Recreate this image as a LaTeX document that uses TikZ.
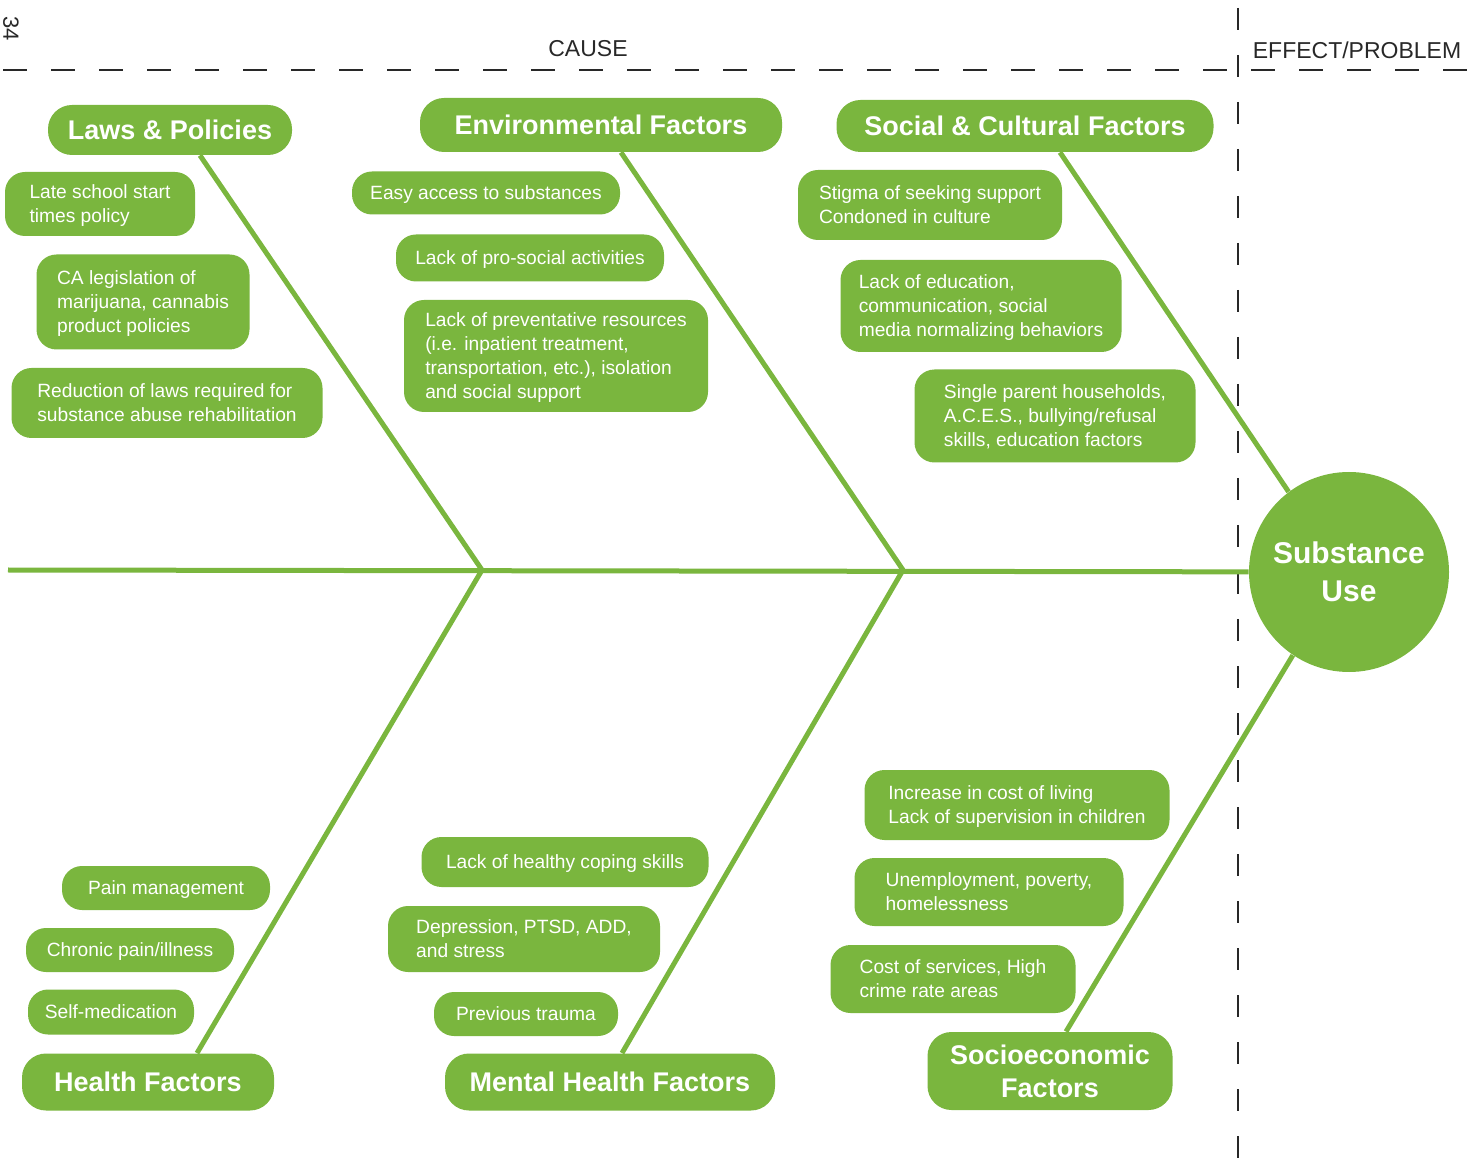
\documentclass[tikz,border=0pt]{standalone}
\usepackage{fontspec}
\setmainfont{Liberation Sans}

\definecolor{vert}{RGB}{122,182,62}
\definecolor{gristrait}{RGB}{40,40,40}

\begin{document}
\begin{tikzpicture}[x=0.5pt, y=-0.5pt,
    arete/.style={vert, line width=2.5pt},
    titre/.style={fill=vert, text=white, align=center, inner sep=0pt,
      rounded corners=12pt, font=\bfseries\fontsize{13.5}{16.5}\selectfont},
    boite/.style={fill=vert, text=white, align=left, inner sep=0pt, text depth=0pt,
      rounded corners=10pt, font=\fontsize{9.6}{12}\selectfont},
    tirets/.style={gristrait, line width=0.9pt}]
      \useasboundingbox (0,0) rectangle (1479,1171);

      % Cadre cause / effet
      \draw[tirets, dash pattern=on 12pt off 12pt, dash phase=-1.5pt] (0,70) -- (1479,70);
      \draw[tirets, dash pattern=on 11pt off 12.5pt] (1238,8) -- (1238,1171);
      \node[gristrait, font=\fontsize{11.5}{14}\selectfont] (cause) at (588,49) {CAUSE};
      \node[gristrait, font=\fontsize{11.5}{14}\selectfont] (effetprobleme) at (1357,50) {EFFECT/PROBLEM};
      \node[gristrait, rotate=-90, font=\fontsize{11}{12}\selectfont] (page) at (11,29) {34};

      % Probleme
      \node[circle, fill=vert, text=white, minimum size=100pt, inner sep=0pt, align=center,
        font=\bfseries\fontsize{15}{19}\selectfont] (effet) at (1349,572) {Substance\\Use};

      % Titres des familles
      \foreach \nom/\x/\y/\w/\h/\texte in {
        lois/170/130/244/50/{Laws \& Policies},
        envir/601/125/362/54/{Environmental Factors},
        social/1025/126/377/52/{Social \& Cultural Factors},
        sante/148/1082/252/57/{Health Factors},
        mental/610/1082/330/57/{Mental Health Factors},
        socioeco/1050/1071/245/78/{Socioeconomic\\Factors}} {
        \node[titre, minimum width=0.5pt*\w, minimum height=0.5pt*\h] (\nom) at (\x,\y) {\texte};
      }

      % Causes
      \foreach \nom/\x/\y/\w/\h/\texte in {
        lois1/100/204/190/64/{Late school start\\times policy},
        lois2/143/302/213/95/{CA legislation of\\marijuana, cannabis\\product policies},
        lois3/167/403/311/70/{Reduction of laws required for\\substance abuse rehabilitation},
        envir1/486/193/268/43/{Easy access to substances},
        envir2/530/258/268/47/{Lack of pro-social activities},
        envir3/556/356/304/112/{Lack of preventative resources\\(i.e. inpatient treatment,\\transportation, etc.), isolation\\and social support},
        social1/930/205/264/70/{Stigma of seeking support\\Condoned in culture},
        social2/981/306/281/92/{Lack of education,\\communication, social\\media normalizing behaviors},
        social3/1055/416/281/93/{Single parent households,\\A.C.E.S., bullying/refusal\\skills, education factors},
        sante1/166/888/208/44/{Pain management},
        sante2/130/950/208/44/{Chronic pain/illness},
        sante3/111/1012/166/45/{Self-medication},
        mental1/565/862/287/50/{Lack of healthy coping skills},
        mental2/524/939/272/66/{Depression, PTSD, ADD,\\and stress},
        mental3/526/1014/184/44/{Previous trauma},
        socioeco1/1017/805/305/70/{Increase in cost of living\\Lack of supervision in children},
        socioeco2/989/892/269/68/{Unemployment, poverty,\\homelessness},
        socioeco3/953/979/245/68/{Cost of services, High\\crime rate areas}} {
        \node[boite, minimum width=0.5pt*\w, minimum height=0.5pt*\h] (\nom) at (\x,\y) {\texte};
      }

      % Arete centrale
      \coordinate (queue) at (8,570);
      \coordinate (jonction1) at (482,570);
      \coordinate (jonction2) at (903,570);
      \draw[arete] (queue) -- (effet);

      % Aretes obliques
      \draw[arete] ([xshift=15pt]lois.south) -- (jonction1);
      \draw[arete] ([xshift=10pt]envir.south) -- (jonction2);
      \draw[arete] ([xshift=17.5pt]social.south) -- (effet.127);
      \draw[arete] ([xshift=24.5pt]sante.north) -- (jonction1);
      \draw[arete] ([xshift=6pt]mental.north) -- (jonction2);
      \draw[arete] ([xshift=8pt]socioeco.north) -- (effet.236);
    \end{tikzpicture}
\end{document}
